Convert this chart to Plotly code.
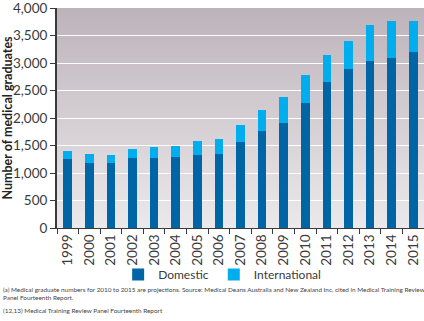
import base64
import plotly.graph_objects as go

years = [str(y) for y in range(1999, 2016)]
domestic = [1250, 1190, 1190, 1280, 1280, 1300, 1330, 1350, 1560, 1760, 1910,
            2270, 2660, 2900, 3030, 3090, 3200]
total = [1400, 1350, 1320, 1430, 1470, 1500, 1590, 1620, 1880, 2150, 2380,
         2780, 3140, 3400, 3700, 3770, 3770]
international = [t - d for t, d in zip(total, domestic)]

y_ticks = [0, 500, 1000, 1500, 2000, 2500, 3000, 3500, 4000]
y_labels = ["0", "500", "1,000", "1,500", "2,000", "2,500", "3,000", "3,500", "4,000"]

footnote_a = ("(a) Medical graduate numbers for 2010 to 2015 are projections. Source: Medical Deans "
              "Australia and New Zealand Inc, cited in Medical Training Review<br>Panel Fourteenth Report.")
footnote_b = "(12,13) Medical Training Review Panel Fourteenth Report"

FONT = "Lato, 'Open Sans', sans-serif"
DARK = "#3a3a3a"

# vertical gradient for the plotting area
svg = ('<svg xmlns="http://www.w3.org/2000/svg" width="10" height="100" preserveAspectRatio="none">'
       '<defs><linearGradient id="g" x1="0" y1="0" x2="0" y2="1">'
       '<stop offset="0" stop-color="#bdb3bb"/><stop offset="1" stop-color="#ebe9eb"/>'
       '</linearGradient></defs><rect width="10" height="100" fill="url(#g)"/></svg>')
bg_uri = "data:image/svg+xml;base64," + base64.b64encode(svg.encode()).decode()

fig = go.Figure()
fig.add_trace(go.Bar(x=years, y=domestic, name="Domestic", marker_color="#0065a4",
                     marker_line_width=0))
fig.add_trace(go.Bar(x=years, y=international, name="International", marker_color="#00aeef",
                     marker_line_width=0))

fig.update_layout(
    barmode="stack",
    bargap=0.6,
    width=424, height=321,
    margin=dict(l=57, r=0, t=6, b=93),
    paper_bgcolor="white",
    plot_bgcolor="rgba(0,0,0,0)",
    font=dict(family=FONT, color=DARK, size=13),
    images=[dict(source=bg_uri, xref="paper", yref="paper", x=0, y=1, sizex=1, sizey=1,
                 xanchor="left", yanchor="top", sizing="stretch", layer="below")],
    legend=dict(orientation="h", traceorder="normal", x=0.45, xanchor="center",
                y=-0.145, yanchor="top", font=dict(size=12, color=DARK),
                itemwidth=30, bgcolor="rgba(0,0,0,0)"),
    showlegend=True,
    annotations=[
        dict(text=footnote_a, xref="paper", yref="paper", x=-0.152, y=-0.255,
             xanchor="left", yanchor="top", align="left", showarrow=False,
             font=dict(size=6.4, color="#444444", family=FONT)),
        dict(text=footnote_b, xref="paper", yref="paper", x=-0.152, y=-0.35,
             xanchor="left", yanchor="top", align="left", showarrow=False,
             font=dict(size=6.4, color="#444444", family=FONT)),
    ],
)

fig.update_xaxes(
    type="category", tickangle=-90, tickson="boundaries", ticks="outside",
    ticklen=5, tickcolor=DARK, showline=True, linecolor=DARK, linewidth=1,
    showgrid=False, tickfont=dict(size=13.5, color=DARK), range=[-0.5, 16.5],
)
fig.update_yaxes(
    range=[0, 4003], tickvals=y_ticks, ticktext=y_labels, ticks="outside",
    ticklen=5, tickcolor=DARK, showline=True, linecolor=DARK, linewidth=2,
    showgrid=True, gridcolor="white", gridwidth=1, zeroline=False,
    tickfont=dict(size=13.5, color=DARK), ticklabeloverflow="allow",
    title=dict(text="<b>Number of medical graduates</b>", font=dict(size=12.5, color="#222222"),
               standoff=4),
)

fig.write_html("out.html")
